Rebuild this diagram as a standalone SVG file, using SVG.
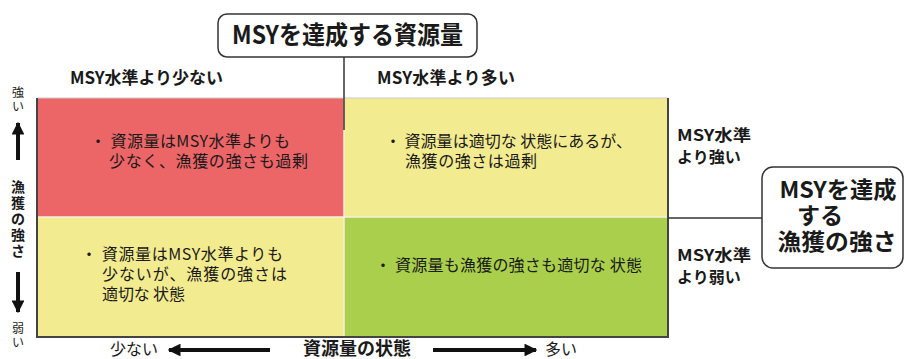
<svg xmlns="http://www.w3.org/2000/svg" width="905" height="359" viewBox="0 0 905 359">
<defs>
<style>
text{font-family:"Noto Sans CJK JP","Noto Sans",sans-serif;fill:#1a1a1a}
.b{font-weight:bold}
.cell{font-size:16px}
.hdr{font-size:17px;font-weight:bold}
.lbl{font-size:16px;font-weight:bold}
.box{fill:#fff;stroke:#333;stroke-width:1.5}
.ln{stroke:#333;stroke-width:1.5;fill:none}
.arr{stroke:#111;stroke-width:4;fill:none}
</style>
<marker id="ah" viewBox="0 0 10 10" refX="9" refY="5" markerWidth="3.2" markerHeight="3.2" orient="auto" markerUnits="strokeWidth">
<path d="M0,0 L10,5 L0,10 Z" fill="#111"/>
</marker>
</defs>
<rect width="905" height="359" fill="#fff"/>

<g id="grid">
<rect id="cell-tl" x="37" y="98" width="307" height="119" fill="#EC6567"/>
<rect id="cell-tr" x="344" y="98" width="324" height="119" fill="#F3EB8F"/>
<rect id="cell-bl" x="37" y="217" width="307" height="120" fill="#F3EB8F"/>
<rect id="cell-br" x="344" y="217" width="324" height="120" fill="#A9CF4C"/>
<line x1="37" y1="98" x2="668" y2="98" stroke="#ccc" stroke-width="1"/>
<line x1="37" y1="217" x2="668" y2="217" stroke="#f4f2e0" stroke-width="1.5"/>
<line x1="344" y1="98" x2="344" y2="337" stroke="#f4f2e0" stroke-width="1.5"/>
<polyline points="37,98 37,337 668,337 668,98" fill="none" stroke="#444" stroke-width="2"/>
</g>

<g id="cell-tl-text" class="cell">
<text x="90" y="147" textLength="200" lengthAdjust="spacing">・ 資源量はMSY水準よりも</text>
<text x="109" y="167" textLength="199" lengthAdjust="spacing">少なく、漁獲の強さも過剰</text>
</g>
<g id="cell-tr-text" class="cell">
<text x="385" y="147" textLength="247" lengthAdjust="spacing">・ 資源量は適切な 状態にあるが、</text>
<text x="405" y="167" textLength="132" lengthAdjust="spacing">漁獲の強さは過剰</text>
</g>
<g id="cell-bl-text" class="cell">
<text x="81" y="260" textLength="202" lengthAdjust="spacing">・ 資源量はMSY水準よりも</text>
<text x="102" y="280" textLength="185" lengthAdjust="spacing">少ないが、漁獲の強さは</text>
<text x="102" y="300" textLength="83" lengthAdjust="spacing">適切な 状態</text>
</g>
<g id="cell-br-text" class="cell">
<text x="375" y="271" textLength="267" lengthAdjust="spacing">・ 資源量も漁獲の強さも適切な 状態</text>
</g>

<g id="connectors">
<line class="ln" x1="344" y1="57" x2="344" y2="130"/>
<line class="ln" x1="668" y1="218" x2="762" y2="218"/>
<line class="arr" x1="18" y1="160" x2="18" y2="123" marker-end="url(#ah)"/>
<line class="arr" x1="18" y1="272" x2="18" y2="312" marker-end="url(#ah)"/>
<line class="arr" x1="270" y1="350" x2="169" y2="350" marker-end="url(#ah)"/>
<line class="arr" x1="433" y1="350" x2="536" y2="350" marker-end="url(#ah)"/>
</g>

<g id="title-node">
<rect class="box" x="218" y="14" width="259" height="43" rx="9"/>
<text x="347.5" y="44" font-size="25" class="b" text-anchor="middle" textLength="231" lengthAdjust="spacingAndGlyphs">MSYを達成する資源量</text>
</g>

<g id="fishing-node">
<rect class="box" x="762" y="167" width="141" height="101" rx="11"/>
<text x="838" y="198" font-size="23" class="b" text-anchor="middle" textLength="117" lengthAdjust="spacingAndGlyphs">MSYを達成</text>
<text x="820" y="224" font-size="23" class="b" text-anchor="middle">する</text>
<text x="837" y="250" font-size="23" class="b" text-anchor="middle" textLength="119" lengthAdjust="spacingAndGlyphs">漁獲の強さ</text>
</g>

<g id="col-headers" class="hdr">
<text x="70" y="84" textLength="153" lengthAdjust="spacing">MSY水準より少ない</text>
<text x="377" y="84" textLength="138" lengthAdjust="spacing">MSY水準より多い</text>
</g>

<g id="row-labels" class="lbl">
<text x="677" y="141" textLength="74" lengthAdjust="spacingAndGlyphs">MSY水準</text>
<text x="677" y="163">より強い</text>
<text x="677" y="261" textLength="74" lengthAdjust="spacingAndGlyphs">MSY水準</text>
<text x="677" y="283">より弱い</text>
</g>

<g id="y-axis" text-anchor="middle">
<text x="18" y="97" font-size="12">強</text>
<text x="18" y="111" font-size="12">い</text>
<text x="18" y="192" font-size="14" class="b">漁</text>
<text x="18" y="208" font-size="14" class="b">獲</text>
<text x="18" y="224" font-size="14" class="b">の</text>
<text x="18" y="240" font-size="14" class="b">強</text>
<text x="18" y="256" font-size="14" class="b">さ</text>
<text x="18" y="333" font-size="12">弱</text>
<text x="18" y="347" font-size="12">い</text>
</g>

<g id="x-axis">
<text x="110" y="355" font-size="16">少ない</text>
<text x="303" y="355" font-size="18" class="b">資源量の状態</text>
<text x="545" y="355" font-size="16">多い</text>
</g>
</svg>
